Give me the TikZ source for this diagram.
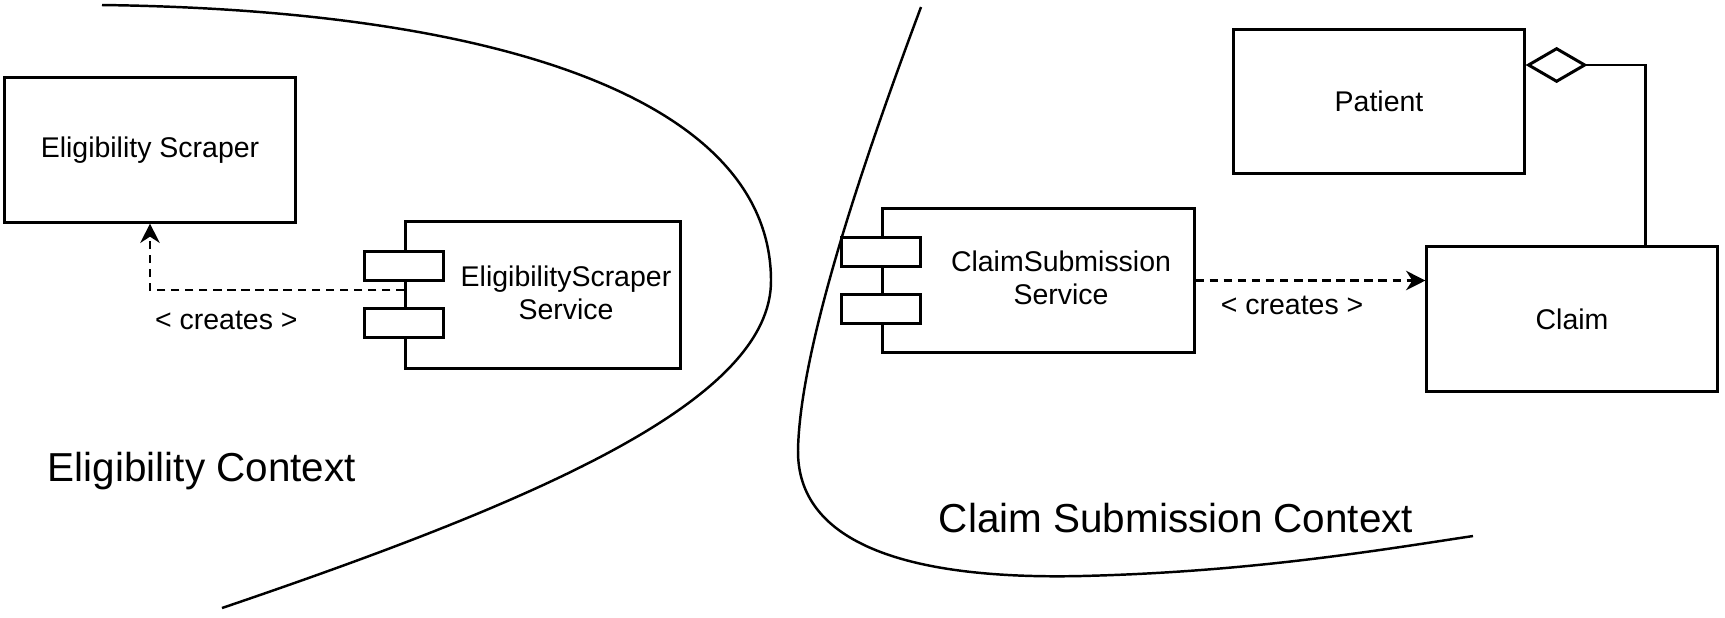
\documentclass[tikz,border=0pt]{standalone}
\usepackage{fontspec}
\setmainfont{Liberation Sans}
\usetikzlibrary{arrows.meta,positioning}

\begin{document}
\begin{tikzpicture}[x=0.01cm, y=-0.01cm, line width=0.7pt,
  box/.style={draw, line width=0.85pt, minimum width=2.9cm, minimum height=1.44cm, inner sep=0pt, font=\fontsize{8.1}{9.5}\selectfont},
  port/.style={draw, line width=0.85pt, fill=white, minimum width=0.79cm, minimum height=0.29cm, inner sep=0pt},
  creates/.style={line width=0.8pt, dash pattern=on 2.4pt off 1.6pt, -{Stealth[length=5.5pt,width=5.5pt]}},
  lbl/.style={font=\fontsize{8.1}{9.5}\selectfont},
  ctx/.style={font=\fontsize{11.5}{13.8}\selectfont, anchor=west}]
\useasboundingbox (0,0) rectangle (1725,617);

% context boundaries
\draw (102,5) .. controls (500,10) and (770,100) .. (771,280) .. controls (772,400) and (540,500) .. (222,608);
\draw (921,7) .. controls (860,170) and (800,350) .. (798,450) .. controls (797,540) and (900,580) .. (1081,576) .. controls (1250,572) and (1380,550) .. (1473,536);

\node[ctx] (ectx) at (35,471) {Eligibility Context};
\node[ctx] (cctx) at (926,518) {Claim Submission Context};

\node[box] (scraper) at (150,150) {Eligibility Scraper};
\node[box] (patient) at (1379,101.5) {Patient};
\node[box] (claim) at (1572,319) {Claim};

% components
\node[box, minimum width=2.74cm, minimum height=1.46cm] (esrv) at (543,295) {};
\node[port] (ep1) at ([yshift=0.29cm]esrv.west) {};
\node[port] (ep2) at ([yshift=-0.28cm]esrv.west) {};
\node[lbl, align=center] (esrvtext) at (566,293) {EligibilityScraper\\Service};

\node[box, minimum width=3.11cm, minimum height=1.43cm] (csrv) at (1038.5,280.5) {};
\node[port] (cp1) at ([yshift=0.285cm]csrv.west) {};
\node[port] (cp2) at ([yshift=-0.285cm]csrv.west) {};
\node[lbl, align=center] (csrvtext) at (1061,278) {ClaimSubmission\\Service};

\draw[creates] ([yshift=0.05cm]esrv.west) -| node[lbl, pos=0.35, yshift=-0.3cm] {< creates >} (scraper.south);
\draw[creates] (csrv.east) -- node[lbl, pos=0.42, yshift=-0.245cm] {< creates >} (csrv.east -| claim.west);

\draw[line width=0.85pt, -{Diamond[open,length=0.62cm,width=0.36cm]}] ([xshift=-0.73cm]claim.north east) |- ([yshift=-0.37cm]patient.north east);
\end{tikzpicture}
\end{document}
